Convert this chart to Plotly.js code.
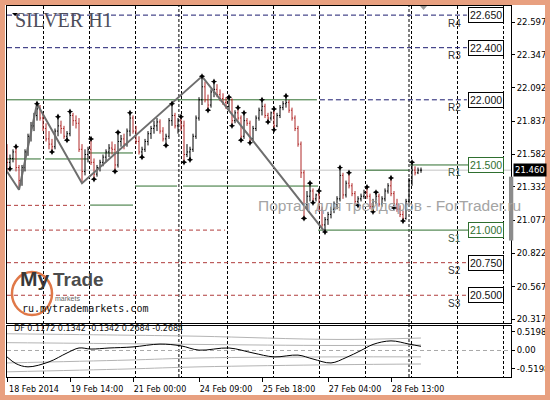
<!DOCTYPE html>
<html><head><meta charset="utf-8">
<script src="https://cdn.plot.ly/plotly-3.0.1.min.js"></script>
<style>html,body{margin:0;padding:0;background:#fff;overflow:hidden}#chart{width:550px;height:400px}</style>
</head><body><div id="chart"></div>
<script>
// ---- SILVER H1 bars (bar index 0..138) ----
const barOpen  = [21.60,21.52,21.55,21.60,21.48,21.38,21.48,21.60,21.72,21.80,21.88,21.93,21.86,21.78,21.70,21.66,21.64,21.76,21.80,21.78,21.72,21.74,21.88,21.84,21.82,21.62,21.45,21.58,21.62,21.52,21.43,21.48,21.52,21.56,21.60,21.63,21.62,21.50,21.68,21.70,21.66,21.76,21.86,21.76,21.68,21.60,21.62,21.68,21.74,21.78,21.80,21.83,21.76,21.70,21.72,21.84,21.88,21.80,21.84,21.80,21.58,21.60,21.62,21.72,21.86,22.00,22.10,22.00,21.96,22.06,22.08,22.04,22.01,21.98,21.95,22.00,21.84,21.90,21.86,21.72,21.84,21.82,21.70,21.78,21.86,21.92,21.95,21.88,21.86,21.90,21.80,21.88,21.94,21.97,21.98,21.92,21.86,21.78,21.66,21.44,21.20,21.26,21.30,21.24,21.27,21.16,21.04,21.08,21.12,21.16,21.20,21.24,21.42,21.27,21.36,21.34,21.28,21.22,21.24,21.26,21.29,21.26,21.18,21.22,21.26,21.20,21.24,21.30,21.34,21.28,21.20,21.16,21.12,21.09,21.22,21.38,21.46,21.44,21.46];
const barHigh  = [21.66,21.58,21.62,21.64,21.50,21.50,21.62,21.74,21.83,21.90,21.97,21.96,21.90,21.82,21.76,21.70,21.78,21.87,21.84,21.80,21.76,21.91,21.90,21.88,21.86,21.66,21.62,21.64,21.70,21.55,21.50,21.54,21.58,21.62,21.66,21.68,21.66,21.75,21.73,21.74,21.78,21.90,21.88,21.80,21.72,21.64,21.70,21.76,21.80,21.84,21.86,21.85,21.79,21.74,21.86,21.97,21.90,21.86,21.87,21.84,21.66,21.64,21.74,21.88,22.02,22.18,22.14,22.04,22.08,22.14,22.12,22.08,22.05,22.02,22.02,22.01,21.92,21.94,21.88,21.90,21.86,21.84,21.80,21.88,21.94,22.00,21.97,21.90,21.91,21.93,21.90,21.96,21.99,22.03,22.00,21.94,21.88,21.80,21.68,21.46,21.30,21.36,21.32,21.28,21.30,21.18,21.10,21.14,21.18,21.22,21.26,21.48,21.44,21.38,21.44,21.36,21.30,21.26,21.28,21.31,21.33,21.28,21.24,21.29,21.28,21.26,21.32,21.36,21.40,21.30,21.24,21.19,21.15,21.24,21.40,21.52,21.49,21.48,21.48];
const barLow   = [21.45,21.47,21.52,21.45,21.31,21.34,21.45,21.57,21.68,21.76,21.84,21.84,21.76,21.68,21.62,21.60,21.62,21.72,21.74,21.70,21.69,21.72,21.80,21.78,21.60,21.36,21.42,21.52,21.50,21.39,21.41,21.45,21.49,21.52,21.56,21.58,21.45,21.48,21.64,21.62,21.64,21.72,21.74,21.66,21.58,21.56,21.60,21.65,21.70,21.74,21.76,21.74,21.68,21.65,21.70,21.80,21.78,21.74,21.76,21.52,21.56,21.54,21.60,21.70,21.84,21.96,21.98,21.92,21.94,22.02,22.02,21.99,21.96,21.93,21.92,21.80,21.82,21.84,21.69,21.70,21.80,21.67,21.68,21.76,21.84,21.88,21.86,21.83,21.84,21.77,21.79,21.86,21.92,21.94,21.90,21.84,21.76,21.64,21.40,21.09,21.16,21.22,21.21,21.22,21.14,21.02,20.985,21.04,21.09,21.13,21.16,21.22,21.24,21.25,21.32,21.26,21.20,21.19,21.22,21.24,21.24,21.16,21.14,21.20,21.18,21.18,21.22,21.28,21.26,21.17,21.14,21.10,21.07,21.08,21.20,21.34,21.42,21.43,21.44];
const barClose = [21.52,21.55,21.60,21.48,21.38,21.48,21.60,21.72,21.80,21.88,21.93,21.86,21.78,21.70,21.66,21.64,21.76,21.80,21.78,21.72,21.74,21.88,21.84,21.82,21.62,21.45,21.58,21.62,21.52,21.43,21.48,21.52,21.56,21.60,21.63,21.62,21.50,21.68,21.70,21.66,21.76,21.86,21.76,21.68,21.60,21.62,21.68,21.74,21.78,21.80,21.83,21.76,21.70,21.72,21.84,21.88,21.80,21.84,21.80,21.58,21.60,21.62,21.72,21.86,22.00,22.10,22.00,21.96,22.06,22.08,22.04,22.01,21.98,21.95,22.00,21.84,21.90,21.86,21.72,21.84,21.82,21.70,21.78,21.86,21.92,21.95,21.88,21.86,21.90,21.80,21.88,21.94,21.97,21.98,21.92,21.86,21.78,21.66,21.44,21.20,21.26,21.30,21.24,21.27,21.16,21.04,21.08,21.12,21.16,21.20,21.24,21.42,21.27,21.36,21.34,21.28,21.22,21.24,21.26,21.29,21.26,21.18,21.22,21.26,21.20,21.24,21.30,21.34,21.28,21.20,21.16,21.12,21.09,21.22,21.38,21.46,21.44,21.46,21.46];

// fractals and zigzag (bar indices)
const fractalUpBars   = [3,10,17,21,28,37,41,55,58,65,69,74,77,79,85,89,93,101,104,111,114,120,123,128,135];
const fractalDownBars = [1,15,20,29,36,45,53,59,61,67,75,78,81,87,89,99,102,106,117,122,129,132];
const zigzagBars  = [0,4,10,25,65,106];
const zigzagSides = ['low','low','high','low','high','low'];

// x-axis labels
const timeLabelBars = [0,21,42,64,85,107,128];
const timeLabels = ['18 Feb 2014','19 Feb 14:00','21 Feb 00:00','24 Feb 09:00','25 Feb 18:00','27 Feb 04:00','28 Feb 13:00'];

// price scale labels
const priceTicks = [22.597,22.347,22.092,21.837,21.582,21.332,21.077,20.822,20.567,20.317];
const lastPrice = 21.460;

// pivot levels
const levelNames  = ['R4','R3','R2','R1','S1','S2','S3'];
const levelValues = [22.650,22.400,22.000,21.500,21.000,20.750,20.500];

// daily level segments [startBar, endBar, price]
const greenSegStart = [0,12.7,27.7,27.7,42.7,58.7,0,103.7,119.3,134.3];
const greenSegEnd   = [11.3,27,42,42,56.7,103.7,103.3,153.7,134,153.7];
const greenSegPrice = [21.546,21.546,21.592,21.192,21.338,21.338,22.000,21.000,21.460,21.500];

// DF oscillator
const dfBars   = [0,3,7,14,20,24,28,34,42,51,58,64,74,82,89,97,102,108,113,118,122,128,134,138];
const dfValues = [-0.18,-0.37,-0.46,-0.32,-0.07,0.07,0.04,0.07,0.10,0.18,0.13,0.01,0.07,-0.07,-0.18,-0.13,-0.24,-0.35,-0.20,0.00,0.17,0.27,0.18,0.117];
const bandBars = [0,40,64,110,138];
const bandUpOuter  = [0.47,0.43,0.40,0.31,0.35];
const bandUpInner  = [0.22,0.19,0.17,0.14,0.155];
const bandLowInner = [-0.35,-0.27,-0.21,-0.18,-0.18];
const bandLowOuter = [-0.60,-0.52,-0.46,-0.40,-0.38];
const dfCurrent = 0.1172;
const dfLevels = [0.1342,-0.1342,0.2684,-0.2684];
const dfTicks = [0.5198,0,-0.5198];

// ---------------------------------------------
const barIdx = barOpen.map((_, i) => i);
const traces = [];
traces.push({type:'ohlc', x:barIdx, open:barOpen, high:barHigh, low:barLow, close:barClose,
  xaxis:'x', yaxis:'y', tickwidth:0.35, hoverinfo:'skip',
  increasing:{line:{color:'#000000', width:1}}, decreasing:{line:{color:'#b02828', width:1}}});
traces.push({type:'scatter', mode:'lines', xaxis:'x', yaxis:'y', hoverinfo:'skip',
  x:zigzagBars, y:zigzagBars.map((b,k)=> zigzagSides[k]==='high' ? barHigh[b] : barLow[b]),
  line:{color:'#6e6e6e', width:2}});
traces.push({type:'scatter', mode:'markers', xaxis:'x', yaxis:'y', hoverinfo:'skip',
  x:fractalUpBars, y:fractalUpBars.map(b=>barHigh[b]),
  marker:{symbol:'star-diamond', size:4.5, color:'#000'}});
traces.push({type:'scatter', mode:'markers', xaxis:'x', yaxis:'y', hoverinfo:'skip',
  x:fractalDownBars, y:fractalDownBars.map(b=>barLow[b]),
  marker:{symbol:'star-diamond', size:4.5, color:'#000'}});
[bandUpOuter, bandUpInner, bandLowInner, bandLowOuter].forEach(b => traces.push({
  type:'scatter', mode:'lines', xaxis:'x2', yaxis:'y2', hoverinfo:'skip',
  x:bandBars, y:b, line:{color:'#b4b4b4', width:1, shape:'spline'}}));
traces.push({type:'scatter', mode:'lines', xaxis:'x2', yaxis:'y2', hoverinfo:'skip',
  x:dfBars, y:dfValues, line:{color:'#000', width:1, shape:'spline', smoothing:1}});

// shapes
const shapes = [];
const navy = '#1c1c70', red = '#b03c3c', green = '#2f6f2f';
const levelEnd = 153.3;
function hline(x0,x1,y,color,dash){ shapes.push({type:'line', xref:'x', yref:'y', x0:x0, x1:x1, y0:y, y1:y, layer:'between', line:{color:color, width:1, dash:dash}}); }
shapes.push({type:'line', xref:'paper', yref:'y', x0:0, x1:1, y0:lastPrice, y1:lastPrice, layer:'between', line:{color:'#c4c4c4', width:1}});
hline(0, levelEnd, levelValues[0], navy, '5px,3px');
hline(0, levelEnd, levelValues[1], navy, '5px,3px');
hline(104.3, levelEnd, levelValues[2], navy, '5px,3px');
hline(0, 72.7, levelValues[4], red, '4px,3px');
hline(0, levelEnd, levelValues[5], red, '4px,3px');
hline(0, levelEnd, levelValues[6], red, '4px,3px');
hline(0, 26, 21.19, red, '4px,3px');
greenSegStart.forEach((s,k)=> hline(s, greenSegEnd[k], greenSegPrice[k], green, 'solid'));
[57.3, 134.0].forEach(v => shapes.push({type:'line', xref:'x', yref:'paper', x0:v, x1:v, y0:0, y1:1, layer:'between', line:{color:'#000', width:1, dash:'3px,2px'}}));
shapes.push({type:'line', xref:'paper', yref:'y2', x0:0, x1:1, y0:0, y1:0, layer:'between', line:{color:'#a8a8a8', width:1, dash:'4px,3px'}});
shapes.push({type:'rect', xref:'paper', yref:'y', x0:0.996, x1:1.0045, y0:20.92, y1:21.41, line:{width:0}, fillcolor:'#8c8c8c'});
shapes.push({type:'circle', xref:'paper', yref:'paper', x0:0.0099, x1:0.0893, y0:0.167, y1:0.283, line:{color:'#e07848', width:2.5}});
shapes.push({type:'path', xref:'paper', yref:'paper', path:'M 0.0099 0.9811 L 0.0218 0.9811 L 0.0159 0.9730 Z', fillcolor:'#000', line:{width:0}});
shapes.push({type:'path', xref:'paper', yref:'paper', path:'M 0.8194 1.0 L 0.8333 1.0 L 0.8264 0.9892 Z', fillcolor:'#999', line:{width:0}});
shapes.push({type:'rect', xref:'paper', yref:'paper', x0:-7/504, x1:543/504, y0:-23/371, y1:377/371, line:{color:'#e8a080', width:10}, fillcolor:'rgba(0,0,0,0)'});

// annotations
const ann = [];
levelNames.forEach((n,k)=>{
  const isGreen = (n==='R1' || n==='S1');
  ann.push({xref:'x', yref:'y', x:159.5, xanchor:'center', y:levelValues[k], text:levelValues[k].toFixed(3), showarrow:false,
    font:{family:'Liberation Sans', size:10.5, color: isGreen ? green : '#111'},
    bgcolor:'#fff', bordercolor: isGreen ? green : '#000', borderwidth:1, borderpad:1});
  ann.push({xref:'x', yref:'y', x:149, xanchor:'center', y:levelValues[k], yshift:-8, text:n, showarrow:false,
    font:{family:'Liberation Sans', size:10, color: isGreen ? '#3c5a3c' : '#333'}});
});
ann.push({xref:'paper', yref:'y', x:1.004, xanchor:'left', y:lastPrice, text:lastPrice.toFixed(3), showarrow:false,
  font:{family:'DejaVu Sans', size:8.5, color:'#fff'}, bgcolor:'#000', borderpad:1});
ann.push({xref:'paper', yref:'paper', x:0.758, xanchor:'center', y:0.462, text:'Портал для трейдеров - ForTrader.ru', showarrow:false,
  font:{family:'Liberation Sans', size:15.5, color:'#a4a4a4'}});
ann.push({xref:'paper', yref:'paper', x:0.0536, xanchor:'center', y:0.229, text:'<b>My</b>', showarrow:false,
  font:{family:'Liberation Sans', size:21, color:'#383838'}});
ann.push({xref:'paper', yref:'paper', x:0.141, xanchor:'center', y:0.229, text:'<b>Trade</b>', showarrow:false,
  font:{family:'Liberation Sans', size:19, color:'#4c4c4c'}});
ann.push({xref:'paper', yref:'paper', x:0.121, xanchor:'center', y:0.196, text:'markets', showarrow:false,
  font:{family:'Liberation Sans', size:7, color:'#666'}});
ann.push({xref:'paper', yref:'paper', x:0.155, xanchor:'center', y:0.164, text:'ru.mytrademarkets.com', showarrow:false,
  font:{family:'DejaVu Sans Mono', size:10, color:'#111'}});
ann.push({xref:'paper', yref:'paper', x:0.0099, xanchor:'left', y:0.112,
  text:'DF ' + [dfCurrent].concat(dfLevels).map(v=>v.toFixed(4)).join(' '), showarrow:false,
  font:{family:'DejaVu Sans', size:8, color:'#111'}});

const gridDash = '3px,2px';
const layout = {
  width:550, height:400, margin:{l:7, r:39, t:6, b:23},
  paper_bgcolor:'#fff', plot_bgcolor:'#fff', showlegend:false,
  title:{text:'SILVER H1', font:{family:'Liberation Serif', size:20, color:'#4d4d5a'},
    x:15/550, xref:'container', xanchor:'left', y:1-20/400, yref:'container', yanchor:'middle'},
  xaxis:{domain:[0,1], anchor:'y', range:[0,168], matches:'x2', rangeslider:{visible:false},
    tickmode:'linear', tick0:12, dtick:46/3, showticklabels:false, ticks:'',
    showgrid:true, gridcolor:'#000', griddash:gridDash, gridwidth:1, zeroline:false,
    showline:true, mirror:true, linecolor:'#000', linewidth:1},
  xaxis2:{domain:[0,1], anchor:'y2', range:[0,168], rangeslider:{visible:false},
    tickmode:'array', tickvals:timeLabelBars, ticktext:timeLabels, ticks:'outside', ticklen:4, tickcolor:'#000',
    ticklabelshift:27, tickfont:{family:'DejaVu Sans', size:8, color:'#000'},
    showgrid:false, zeroline:false,
    minor:{tickmode:'linear', tick0:12, dtick:46/3, showgrid:true, gridcolor:'#000', griddash:gridDash, gridwidth:1, ticks:''},
    showline:true, mirror:true, linecolor:'#000', linewidth:1},
  yaxis:{domain:[0.14555,1], anchor:'x', side:'right', range:[20.287,22.720],
    tickmode:'array', tickvals:priceTicks, ticktext:priceTicks.map(v=>v.toFixed(3)),
    ticks:'outside', ticklen:3, tickcolor:'#000', tickfont:{family:'DejaVu Sans', size:8.5, color:'#000'},
    showgrid:false, zeroline:false, showline:true, mirror:true, linecolor:'#000', linewidth:1},
  yaxis2:{domain:[0,0.13747], anchor:'x2', side:'right', range:[-0.745,0.688],
    tickmode:'array', tickvals:dfTicks, ticktext:dfTicks.map(v=> v===0 ? '0.00' : v.toFixed(4)),
    ticks:'outside', ticklen:3, tickcolor:'#000', tickfont:{family:'DejaVu Sans', size:8.5, color:'#000'},
    showgrid:false, zeroline:false, showline:true, mirror:true, linecolor:'#000', linewidth:1},
  shapes:shapes, annotations:ann
};
Plotly.newPlot('chart', traces, layout, {displayModeBar:false, staticPlot:true});
</script></body></html>
